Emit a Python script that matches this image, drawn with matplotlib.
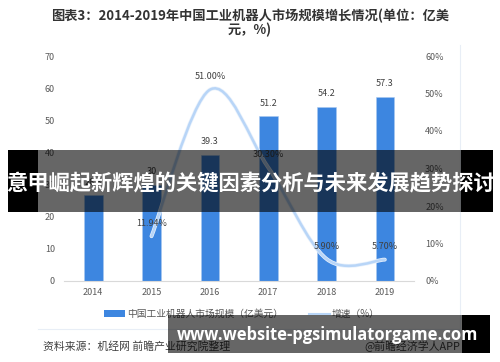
import matplotlib
matplotlib.use('Agg')
import matplotlib.pyplot as plt
from matplotlib.patches import Rectangle, Patch
from matplotlib.lines import Line2D
from matplotlib.path import Path
from matplotlib.patches import PathPatch
import matplotlib.patheffects as pe

plt.rcParams['font.family'] = ['Noto Sans CJK SC', 'DejaVu Sans']

# 数据
years = ['2014', '2015', '2016', '2017', '2018', '2019']
market = [26.8, 30, 39.3, 51.2, 54.2, 57.3]          # 亿美元
growth_years = ['2015', '2016', '2017', '2018', '2019']
growth = [11.94, 51.00, 30.30, 5.90, 5.70]           # %
growth_labels = ['11.94%', '51.00%', '30.30%', '5.90%', '5.70%']

W, H = 500, 362
fig = plt.figure(figsize=(W / 100, H / 100), dpi=100)
fig.patch.set_facecolor('white')


def fx(x):
    return x / W


def fy(y):
    return 1 - y / H


ax = fig.add_axes([fx(64), fy(281), fx(414) - fx(64), fy(56) - fy(281)])
x = list(range(len(years)))
bar_color = '#3d86e0'
ax.bar(x, market, width=0.32, color=bar_color, edgecolor='#a9c9f0', linewidth=0.4, zorder=2)
for xi, v in zip(x, market):
    ax.annotate(f'{v:g}', (xi, v), xytext=(0, 6), textcoords='offset points',
                ha='center', va='bottom', fontsize=6.5, color='#404040')
ax.set_xlim(-0.5, 5.5)
ax.set_ylim(0, 70)
ax.set_yticks(range(0, 71, 10))
ax.set_xticks(x)
ax.set_xticklabels(years)
ax.tick_params(axis='both', length=0, labelsize=6.5, colors='#595959')
ax.tick_params(axis='y', pad=6.5)
ax.tick_params(axis='x', pad=5)
for s in ['top', 'right', 'left']:
    ax.spines[s].set_visible(False)
ax.spines['bottom'].set_color('#d9d9d9')
ax.spines['bottom'].set_linewidth(0.8)

ax2 = ax.twinx()
ax2.set_ylim(0, 60)
ax2.set_yticks(range(0, 61, 10))
ax2.set_yticklabels([f'{v}%' for v in range(0, 61, 10)])
ax2.tick_params(axis='y', length=0, labelsize=6.5, colors='#595959', pad=8)
for s in ['top', 'right', 'left', 'bottom']:
    ax2.spines[s].set_visible(False)

# 平滑曲线（贝塞尔）
gx = [years.index(y) for y in growth_years]
pts = list(zip(gx, growth))
verts = [pts[0]]
codes = [Path.MOVETO]
n = len(pts)
for i in range(n - 1):
    p0 = pts[max(i - 1, 0)]
    p1 = pts[i]
    p2 = pts[i + 1]
    p3 = pts[min(i + 2, n - 1)]
    c1 = (p1[0] + (p2[0] - p0[0]) / 6, p1[1] + (p2[1] - p0[1]) / 6)
    c2 = (p2[0] - (p3[0] - p1[0]) / 6, p2[1] - (p3[1] - p1[1]) / 6)
    verts += [c1, c2, p2]
    codes += [Path.CURVE4] * 3
curve = PathPatch(Path(verts, codes), facecolor='none', edgecolor='#b8d5f7', linewidth=1.8,
                  capstyle='round', zorder=3,
                  path_effects=[pe.Stroke(linewidth=2.8, foreground='#e8f1fc'), pe.Normal()])
ax2.add_patch(curve)
for xi, v, lab in zip(gx, growth, growth_labels):
    ax2.annotate(lab, (xi, v), xytext=(0, 6), textcoords='offset points',
                 ha='center', va='bottom', fontsize=6.5, color='#404040')

# 图例
handles = [Patch(facecolor=bar_color, edgecolor='none'),
           Line2D([0], [0], color='#b8d5f7', linewidth=1.5)]
fig.legend(handles, ['中国工业机器人市场规模（亿美元）', '增速（%）'],
           loc='center', bbox_to_anchor=(fx(242), fy(314)), ncol=2, frameon=False,
           fontsize=7, labelcolor='#595959', handlelength=2.2, handleheight=0.6,
           handletextpad=0.2, columnspacing=2.6)

# 标题
fig.text(0.5, fy(16), '图表3：2014-2019年中国工业机器人市场规模增长情况(单位：亿美',
         ha='center', va='center', fontsize=9.5, fontweight='bold', color='#333333')
fig.text(0.5, fy(30), '元，%)', ha='center', va='center', fontsize=9.5,
         fontweight='bold', color='#333333')

# 边框线
fig.add_artist(Line2D([fx(460), fx(460)], [fy(45), fy(330)], color='#e8eef6', linewidth=0.8))
fig.add_artist(Line2D([fx(38), fx(460)], [fy(329), fy(329)], color='#e8eef6', linewidth=0.8))

# 资料来源
fig.text(fx(43), fy(346), '资料来源：机经网 前瞻产业研究院整理', ha='left', va='center',
         fontsize=7.8, color='#404040')
fig.text(fx(460), fy(346), '@前瞻经济学人APP', ha='right', va='center',
         fontsize=7.8, color='#404040')


# 遮挡横幅
def band(x0, x1, y0, y1, alpha):
    fig.add_artist(Rectangle((fx(x0), fy(y1)), fx(x1) - fx(x0), fy(y0) - fy(y1),
                             transform=fig.transFigure, facecolor='black', alpha=alpha,
                             edgecolor='none', zorder=10))


band(38, 461, 150, 212, 0.6)
band(8, 38, 150, 212, 1.0)
band(461, 493, 150, 212, 1.0)
fig.text(fx(251), fy(184), '意甲崛起新辉煌的关键因素分析与未来发展趋势探讨', ha='center',
         va='center', fontsize=15.3, fontweight='bold', color='white', zorder=11)

band(168, 462, 315, 353, 0.6)
band(462, 490, 315, 353, 1.0)
fig.text(fx(328), fy(335), 'www.website-pgsimulatorgame.com', ha='center', va='center',
         fontsize=11.9, fontweight='bold', color='white', family='Open Sans', zorder=11)

fig.savefig('out.png', dpi=100)
